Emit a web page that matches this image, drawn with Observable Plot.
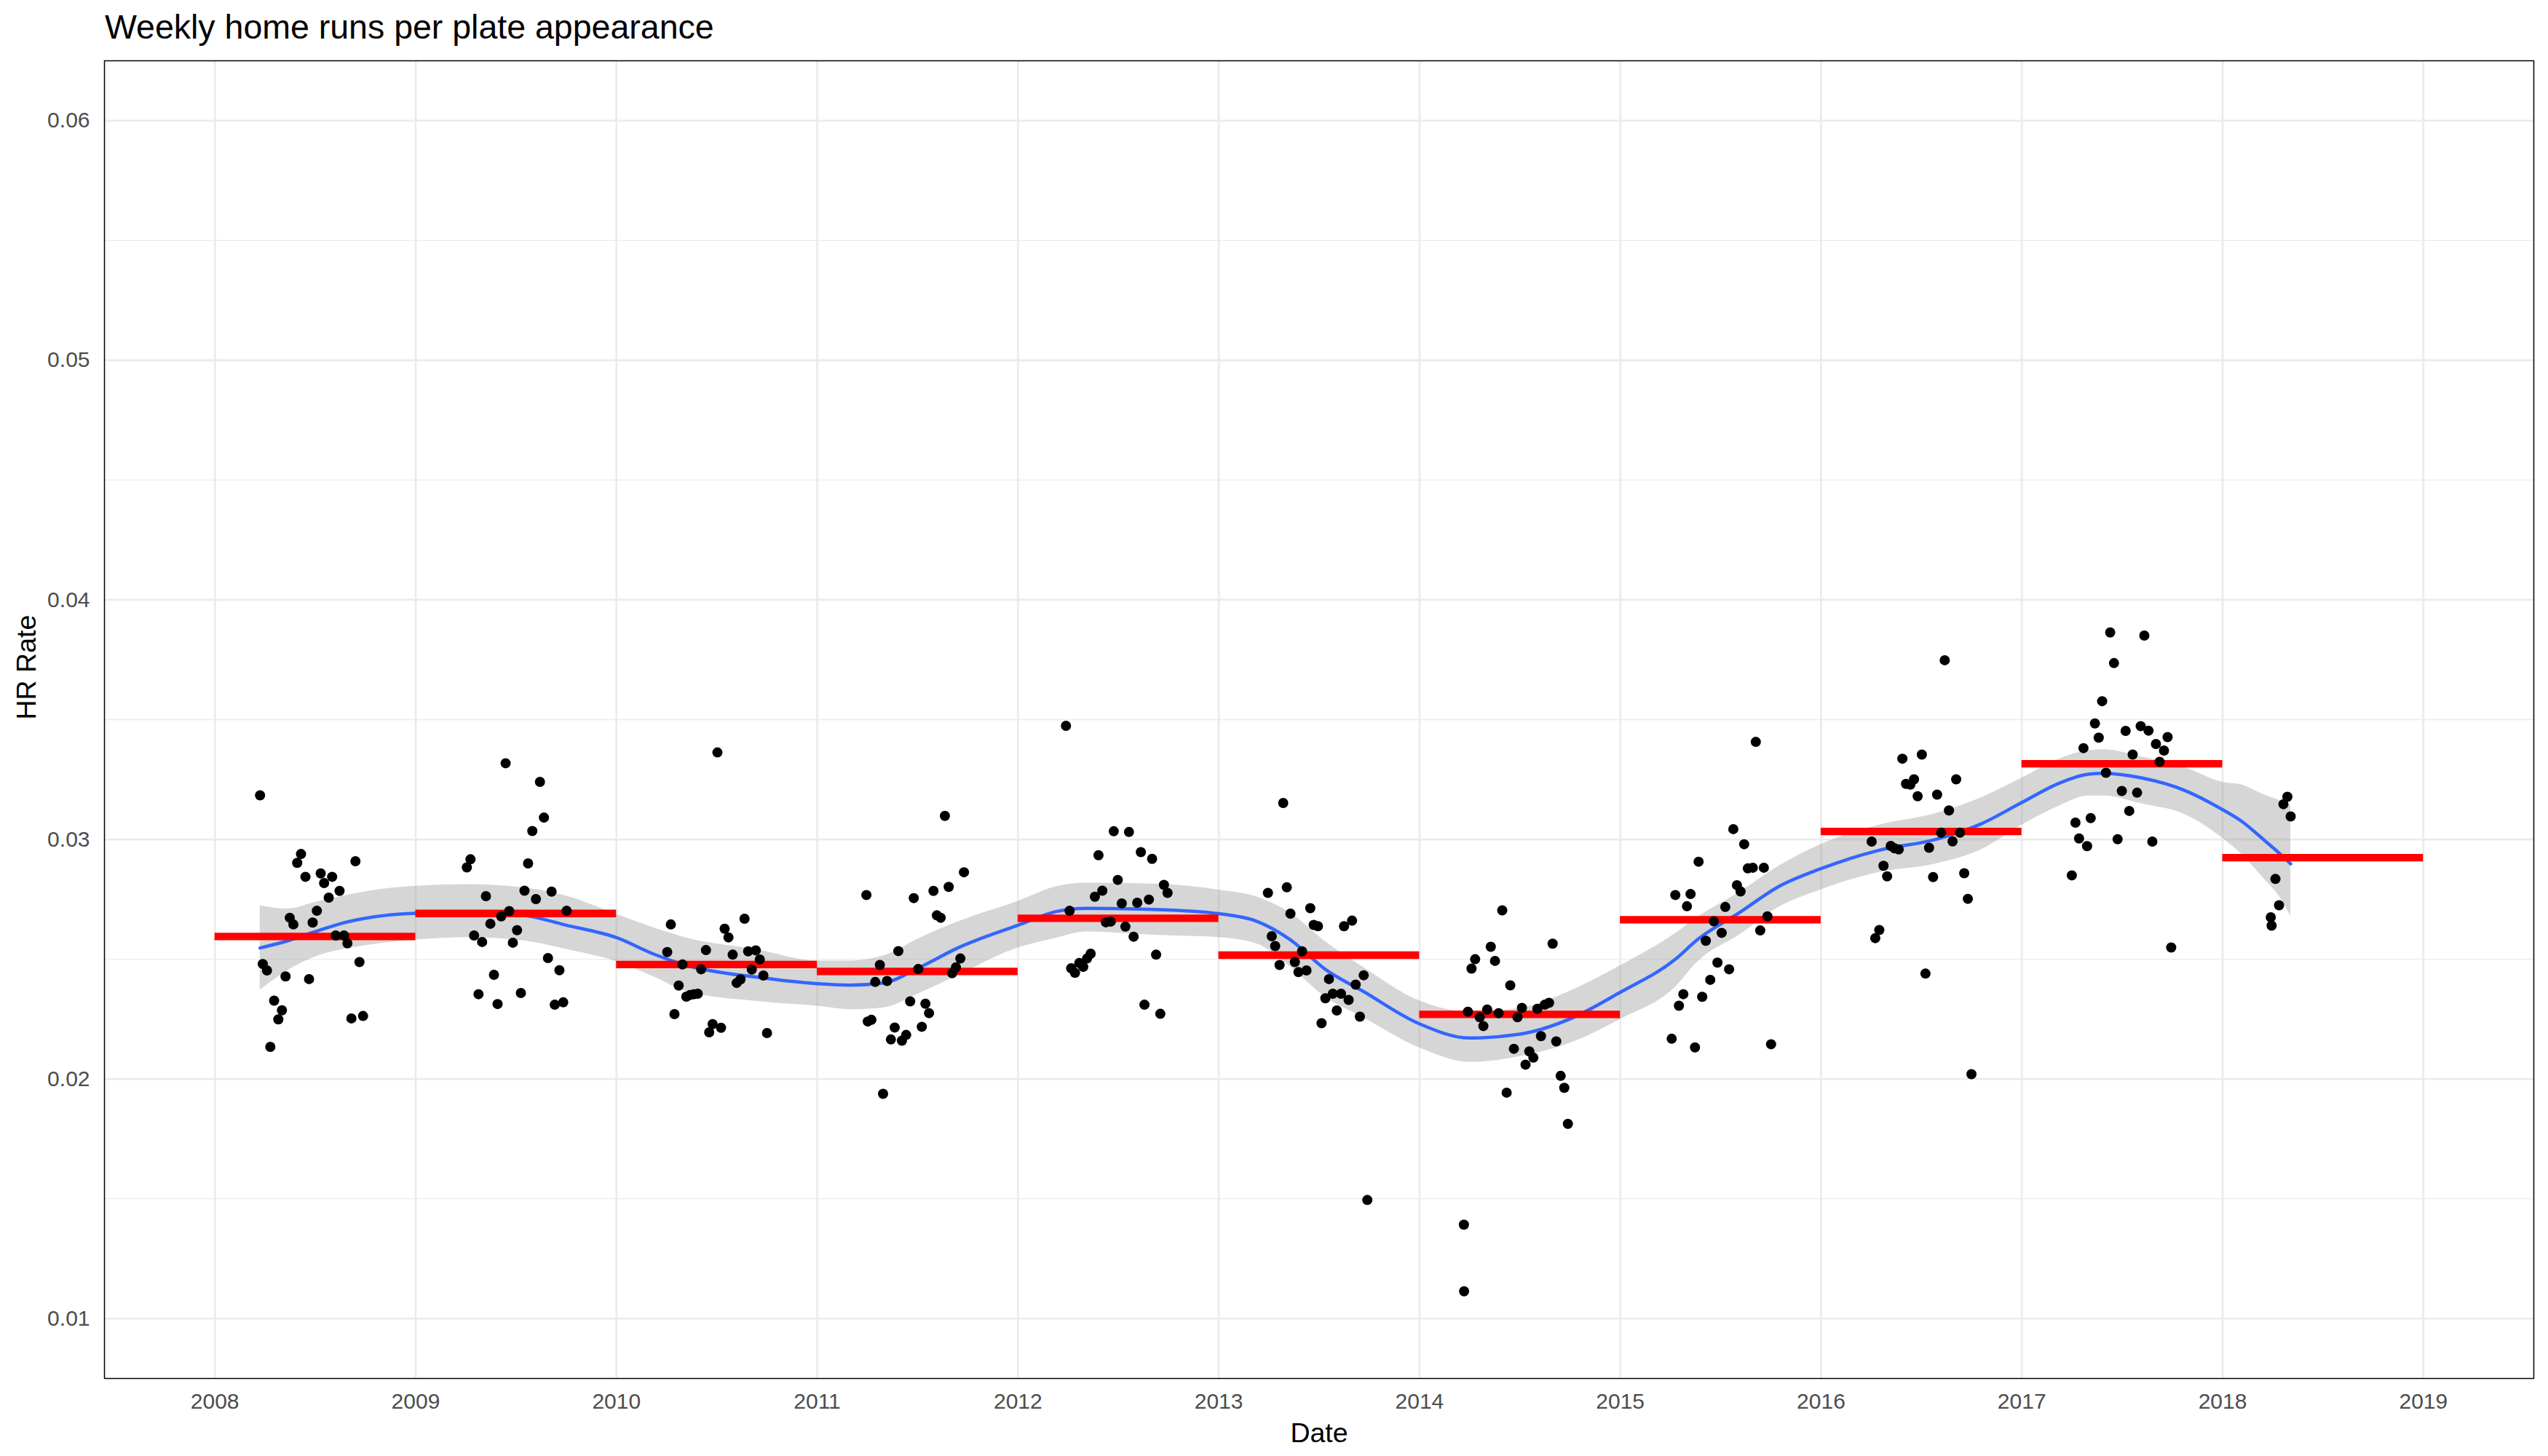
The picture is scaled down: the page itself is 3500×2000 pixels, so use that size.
<!DOCTYPE html>
<html><head><meta charset="utf-8">
<script src="https://cdn.jsdelivr.net/npm/d3@7"></script>
<script src="https://cdn.jsdelivr.net/npm/@observablehq/plot@0.6"></script>
<style>
body{margin:0;background:#fff;}
#wrap{position:relative;width:3500px;height:2000px;font-family:"Liberation Sans",Arial,sans-serif;background:#fff;}
#title{position:absolute;left:144px;top:14px;font-size:46.5px;line-height:46.5px;color:#000;white-space:nowrap;}
#chart{position:absolute;left:0;top:70px;}
</style></head><body>
<div id="wrap"><div id="title">Weekly home runs per plate appearance</div><div id="chart"></div></div>
<script>
// Weekly points: [fraction of year, HR per PA]
const weeks2008 = [[0.225,0.03184],[0.2385,0.0248],[0.2594,0.02453],[0.276,0.02134],[0.295,0.02327],[0.316,0.02249],[0.334,0.02287],[0.352,0.02428],[0.373,0.02673],[0.391,0.02645],[0.41,0.02902],[0.429,0.02939],[0.451,0.02844],[0.469,0.02417],[0.487,0.02653],[0.508,0.02702],[0.527,0.02858],[0.544,0.02818],[0.567,0.02757],[0.584,0.02844],[0.602,0.02599],[0.621,0.02785],[0.643,0.02599],[0.66,0.02566],[0.68,0.02253],[0.7,0.02909],[0.72,0.02488],[0.738,0.02263]];
const weeks2009 = [[0.255,0.02883],[0.273,0.02917],[0.291,0.02599],[0.313,0.02354],[0.331,0.02572],[0.35,0.02763],[0.372,0.02648],[0.39,0.02435],[0.408,0.02313],[0.426,0.02679],[0.448,0.03318],[0.466,0.02701],[0.484,0.02569],[0.505,0.02621],[0.524,0.02359],[0.542,0.02786],[0.56,0.029],[0.581,0.03035],[0.599,0.02751],[0.619,0.0324],[0.639,0.03091],[0.659,0.02505],[0.677,0.02782],[0.693,0.0231],[0.716,0.02454],[0.735,0.0232],[0.752,0.02702]];
const weeks2010 = [[0.253,0.0253],[0.271,0.02645],[0.289,0.02271],[0.31,0.0239],[0.329,0.02478],[0.348,0.02344],[0.367,0.02351],[0.386,0.02354],[0.405,0.02356],[0.422,0.02458],[0.446,0.02538],[0.462,0.02195],[0.479,0.02229],[0.503,0.03363],[0.521,0.02214],[0.539,0.02627],[0.558,0.02591],[0.579,0.02519],[0.599,0.02401],[0.618,0.02416],[0.638,0.02669],[0.656,0.02533],[0.674,0.02457],[0.694,0.02537],[0.714,0.02499],[0.732,0.02432],[0.75,0.02192]];
const weeks2011 = [[0.245,0.02768],[0.252,0.0224],[0.27,0.02247],[0.289,0.02405],[0.312,0.02476],[0.328,0.01938],[0.348,0.02409],[0.367,0.02165],[0.386,0.02215],[0.404,0.02534],[0.422,0.0216],[0.443,0.02184],[0.463,0.02324],[0.481,0.02755],[0.503,0.02459],[0.521,0.02218],[0.539,0.02314],[0.557,0.02275],[0.579,0.02785],[0.596,0.02683],[0.615,0.02673],[0.636,0.03098],[0.655,0.02802],[0.672,0.02442],[0.691,0.02466],[0.713,0.02503],[0.731,0.02863]];
const weeks2012 = [[0.239,0.03474],[0.257,0.02702],[0.265,0.02462],[0.284,0.02443],[0.305,0.02484],[0.325,0.02468],[0.344,0.02503],[0.362,0.02523],[0.383,0.02761],[0.401,0.02934],[0.42,0.02786],[0.438,0.02654],[0.462,0.02657],[0.477,0.03034],[0.497,0.02831],[0.517,0.02733],[0.535,0.02636],[0.553,0.03031],[0.576,0.02594],[0.594,0.02736],[0.612,0.02947],[0.63,0.0231],[0.652,0.02749],[0.668,0.02919],[0.688,0.02519],[0.709,0.02272],[0.727,0.0281],[0.745,0.02777]];
const weeks2013 = [[0.245,0.02777],[0.264,0.02596],[0.281,0.02555],[0.303,0.02476],[0.321,0.03152],[0.339,0.028],[0.357,0.0269],[0.379,0.02488],[0.397,0.02446],[0.415,0.02533],[0.437,0.02453],[0.456,0.02713],[0.473,0.02643],[0.494,0.02638],[0.512,0.02233],[0.531,0.02337],[0.549,0.02417],[0.568,0.02356],[0.588,0.02286],[0.609,0.02356],[0.624,0.02638],[0.647,0.0233],[0.664,0.02661],[0.682,0.02394],[0.703,0.0226],[0.722,0.02433],[0.74,0.01495]];
const weeks2014 = [[0.221,0.01392],[0.222,0.01114],[0.241,0.02281],[0.259,0.02461],[0.277,0.025],[0.3,0.02258],[0.318,0.02221],[0.337,0.0229],[0.355,0.02552],[0.376,0.02493],[0.394,0.02275],[0.412,0.02704],[0.434,0.01943],[0.452,0.02391],[0.47,0.02126],[0.488,0.02258],[0.51,0.02297],[0.528,0.0206],[0.547,0.02115],[0.567,0.02089],[0.587,0.02293],[0.605,0.02179],[0.624,0.0231],[0.645,0.02318],[0.663,0.02565],[0.681,0.02157],[0.703,0.02013],[0.721,0.01963],[0.739,0.01813]];
const weeks2015 = [[0.256,0.02168],[0.274,0.02768],[0.292,0.02306],[0.314,0.02354],[0.332,0.02721],[0.35,0.02772],[0.372,0.02132],[0.39,0.02907],[0.408,0.02343],[0.426,0.02577],[0.448,0.02414],[0.466,0.02658],[0.484,0.02486],[0.505,0.0261],[0.523,0.02718],[0.542,0.02458],[0.563,0.03043],[0.581,0.02809],[0.599,0.02783],[0.617,0.0298],[0.635,0.02879],[0.66,0.02882],[0.675,0.03407],[0.697,0.0262],[0.715,0.02882],[0.733,0.02679],[0.751,0.02145]];
const weeks2016 = [[0.252,0.02991],[0.27,0.02588],[0.29,0.02622],[0.311,0.0289],[0.329,0.02846],[0.347,0.02973],[0.366,0.02963],[0.387,0.02958],[0.405,0.03337],[0.423,0.03232],[0.445,0.03229],[0.463,0.03251],[0.481,0.0318],[0.502,0.03354],[0.52,0.0244],[0.538,0.02965],[0.558,0.02843],[0.578,0.03187],[0.598,0.03028],[0.616,0.03748],[0.637,0.03121],[0.655,0.02992],[0.673,0.03251],[0.692,0.03028],[0.713,0.02859],[0.731,0.02752],[0.749,0.0202]];
const weeks2017 = [[0.249,0.0285],[0.267,0.0307],[0.285,0.03004],[0.307,0.03381],[0.325,0.02972],[0.343,0.03089],[0.364,0.03484],[0.383,0.03425],[0.4,0.03577],[0.419,0.03278],[0.44,0.03864],[0.459,0.03736],[0.477,0.03001],[0.498,0.03202],[0.517,0.03453],[0.535,0.03119],[0.552,0.03354],[0.574,0.03195],[0.592,0.03473],[0.61,0.03851],[0.631,0.03454],[0.65,0.02991],[0.668,0.03398],[0.686,0.03324],[0.708,0.03371],[0.726,0.03427],[0.744,0.02549]];
const weeks2018 = [[0.24,0.02675],[0.244,0.0264],[0.263,0.02835],[0.281,0.02725],[0.303,0.03147],[0.3225,0.03178],[0.339,0.03096]];

const seasonYears = [2008,2009,2010,2011,2012,2013,2014,2015,2016,2017,2018];
const seasonWeeks = [weeks2008,weeks2009,weeks2010,weeks2011,weeks2012,weeks2013,weeks2014,weeks2015,weeks2016,weeks2017,weeks2018];

// Yearly averages (red segments, Jan 1 to Jan 1)
const yearMean = [0.02595,0.02691,0.02478,0.02449,0.02671,0.02517,0.02270,0.02665,0.03033,0.03316,0.02924];

// Smoothed trend and its confidence band
const smoothT = [2008.225,2008.364,2008.5,2008.641,2008.85,2009.0,2009.265,2009.54,2009.75,2010.0,2010.19,2010.354,2010.7,2011.0,2011.16,2011.33,2011.51,2011.70,2012.0,2012.19,2012.34,2012.70,2013.0,2013.19,2013.355,2013.535,2013.715,2014.0,2014.25,2014.5,2014.745,2015.0,2015.27,2015.385,2015.6,2015.78,2016.0,2016.29,2016.566,2016.80,2017.0,2017.19,2017.33,2017.41,2017.60,2017.81,2018.0,2018.094,2018.203,2018.287,2018.339];
const smoothFit = [0.02547,0.02577,0.02615,0.02652,0.02683,0.02692,0.02697,0.02683,0.02642,0.0259,0.0252,0.02473,0.02425,0.02398,0.02392,0.02401,0.02466,0.02547,0.02642,0.02699,0.02712,0.02707,0.0269,0.02658,0.02582,0.02455,0.02368,0.0223,0.02171,0.02187,0.02249,0.02362,0.02497,0.02582,0.02698,0.02799,0.02878,0.02955,0.02999,0.03066,0.03154,0.03236,0.03272,0.03276,0.03256,0.03205,0.03124,0.03076,0.030,0.02939,0.02898];
const smoothLo = [0.02371,0.02453,0.0251,0.02541,0.02568,0.02581,0.02591,0.02577,0.02541,0.0249,0.02425,0.02364,0.02324,0.02304,0.0229,0.02297,0.02358,0.02432,0.02547,0.02588,0.02614,0.026,0.02591,0.02564,0.02469,0.02339,0.02259,0.0213,0.0207,0.02094,0.02148,0.02249,0.0238,0.02489,0.02605,0.02713,0.0279,0.02863,0.02897,0.02958,0.0306,0.03141,0.03182,0.03182,0.03148,0.03105,0.03005,0.02939,0.02838,0.02756,0.0268];
const smoothHi = [0.02724,0.0271,0.02737,0.02764,0.02794,0.02805,0.02812,0.02798,0.02764,0.02688,0.0263,0.02588,0.0254,0.02493,0.02493,0.02514,0.02588,0.02656,0.02742,0.02803,0.02818,0.02813,0.02789,0.0276,0.02694,0.02571,0.02469,0.02326,0.0228,0.02295,0.02365,0.02473,0.02605,0.02675,0.02783,0.02884,0.0298,0.0306,0.03107,0.03175,0.03256,0.03337,0.03371,0.03375,0.03344,0.03301,0.03239,0.03228,0.03188,0.03162,0.03142];

// Axis ticks
const xTicks = [2008,2009,2010,2011,2012,2013,2014,2015,2016,2017,2018,2019];
const yMajorTicks = [0.01,0.02,0.03,0.04,0.05,0.06];
const yMinorTicks = [0.015,0.025,0.035,0.045,0.055];

const points = seasonWeeks.flatMap((w, i) => w.map(([f, v]) => ({t: seasonYears[i] + f, v})));
const segments = seasonYears.map((y, i) => ({x1: y, x2: y + 1, v: yearMean[i]}));
const smooth = smoothT.map((t, i) => ({t, fit: smoothFit[i], lo: smoothLo[i], hi: smoothHi[i]}));

const chart = Plot.plot({
  width: 3500, height: 1930,
  marginTop: 13, marginBottom: 107, marginLeft: 143, marginRight: 20,
  style: {fontFamily: "'Liberation Sans', Arial, sans-serif", fontSize: "30px", background: "white", overflow: "visible"},
  x: {type: "linear", domain: [2007.45, 2019.55]},
  y: {type: "linear", domain: [0.0075, 0.0625]},
  marks: [
    Plot.ruleY(yMinorTicks, {stroke: "#ebebeb", strokeWidth: 1.3}),
    Plot.ruleY(yMajorTicks, {stroke: "#ebebeb", strokeWidth: 2.7}),
    Plot.ruleX(xTicks, {stroke: "#ebebeb", strokeWidth: 2.7}),
    Plot.areaY(smooth, {x: "t", y1: "lo", y2: "hi", fill: "#999999", fillOpacity: 0.4, curve: "monotone-x"}),
    Plot.line(smooth, {x: "t", y: "fit", stroke: "#3366FF", strokeWidth: 4.5, curve: "monotone-x"}),
    Plot.ruleY(segments, {y: "v", x1: "x1", x2: "x2", stroke: "#FF0000", strokeWidth: 10.3}),
    Plot.dot(points, {x: "t", y: "v", r: 7, fill: "black"}),
    Plot.frame({stroke: "black", strokeWidth: 1.5}),
    Plot.axisX({ticks: xTicks, tickFormat: d => String(d), tickSize: 0, tickPadding: 20, fontSize: 30, color: "#4d4d4d", label: null}),
    Plot.axisY({ticks: yMajorTicks, tickFormat: d3.format(".2f"), tickSize: 0, tickPadding: 20, fontSize: 30, color: "#4d4d4d", label: null}),
    Plot.text(["HR Rate"], {text: d => d, frameAnchor: "left", dx: -107, rotate: -90, fontSize: 37.5, fill: "black"}),
    Plot.text(["Date"], {text: d => d, frameAnchor: "bottom", dy: 61, lineAnchor: "top", fontSize: 37.5, fill: "black"})
  ]
});
document.getElementById("chart").appendChild(chart);
</script>
</body></html>
